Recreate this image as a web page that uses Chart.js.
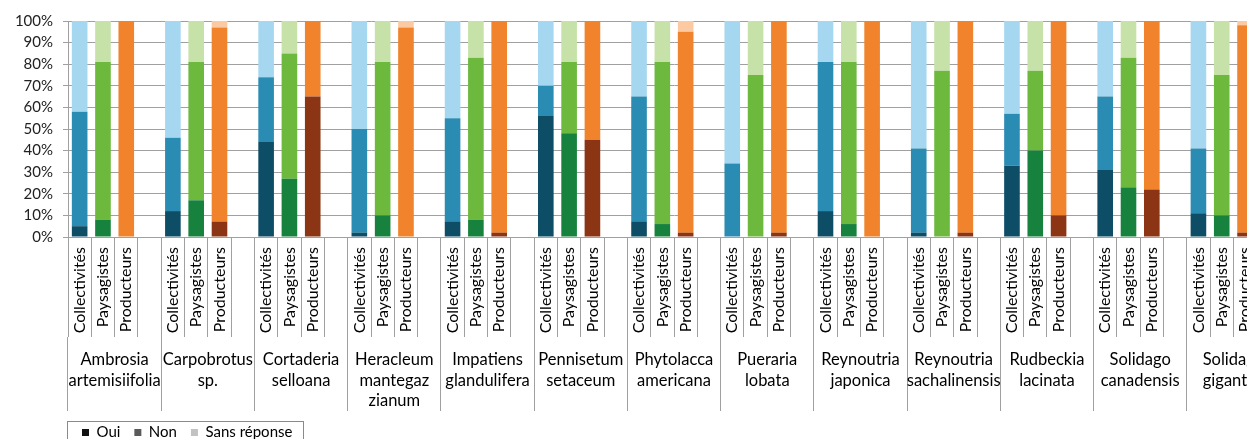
<!DOCTYPE html>
<html lang="fr">
<head>
<meta charset="utf-8">
<title>Espèces envahissantes</title>
<script src="https://cdn.jsdelivr.net/npm/chart.js@4.4.1/dist/chart.umd.min.js"></script>
<style>
  html, body { margin: 0; padding: 0; background: #fff; overflow: hidden; }
  #wrap { position: relative; width: 1290px; height: 455px; }
</style>
</head>
<body>
<div id="wrap"><canvas id="canvas-bar"></canvas></div>
<script>
const especes = [
  ['Ambrosia', 'artemisiifolia'],
  ['Carpobrotus', 'sp.'],
  ['Cortaderia', 'selloana'],
  ['Heracleum', 'mantegaz', 'zianum'],
  ['Impatiens', 'glandulifera'],
  ['Pennisetum', 'setaceum'],
  ['Phytolacca', 'americana'],
  ['Pueraria', 'lobata'],
  ['Reynoutria', 'japonica'],
  ['Reynoutria', 'sachalinensis'],
  ['Rudbeckia', 'lacinata'],
  ['Solidago', 'canadensis'],
  ['Solidago', 'gigantea']
];
const publics = ['Collectivités', 'Paysagistes', 'Producteurs'];
const reponses = ['Oui', 'Non', 'Sans réponse'];

// % par espèce
const collOui  = [5, 12, 44, 2, 7, 56, 7, 0, 12, 2, 33, 31, 11];
const collNon  = [53, 34, 30, 48, 48, 14, 58, 34, 69, 39, 24, 34, 30];
const collSans = [42, 54, 26, 50, 45, 30, 35, 66, 19, 59, 43, 35, 59];
const paysOui  = [8, 17, 27, 10, 8, 48, 6, 0, 6, 0, 40, 23, 10];
const paysNon  = [73, 64, 58, 71, 75, 33, 75, 75, 75, 77, 37, 60, 65];
const paysSans = [19, 19, 15, 19, 17, 19, 19, 25, 19, 23, 23, 17, 25];
const prodOui  = [0, 7, 65, 0, 2, 45, 2, 2, 0, 2, 10, 22, 2];
const prodNon  = [100, 90, 35, 97, 98, 55, 93, 98, 100, 98, 90, 78, 96];
const prodSans = [0, 3, 0, 3, 0, 0, 5, 0, 0, 0, 0, 0, 2];

const couleurs = {
  'Collectivités': ['#0e4d66', '#2a8cb3', '#a6d7f0'],
  'Paysagistes': ['#17823d', '#6cb93d', '#c6e2a8'],
  'Producteurs': ['#8c3514', '#f0832b', '#fbcaa2']
};
const couleursLegende = ['#111111', '#5a5a5a', '#c2c2c2'];

Chart.defaults.font.family = 'Lato, "Open Sans", sans-serif';

// 4 places par espece : 3 publics + 1 vide
const labelsX = [];
especes.forEach(() => {
  publics.forEach((p) => labelsX.push(p));
  labelsX.push('');
});

const series = [
  [collOui, paysOui, prodOui],
  [collNon, paysNon, prodNon],
  [collSans, paysSans, prodSans]
];

const datasets = reponses.map((rep, r) => {
  const data = [];
  const bg = [];
  especes.forEach((e, i) => {
    publics.forEach((p, j) => {
      data.push(series[r][j][i]);
      bg.push(couleurs[p][r]);
    });
    data.push(null);
    bg.push('rgba(0,0,0,0)');
  });
  return {
    label: rep,
    data: data,
    backgroundColor: bg,
    borderWidth: 0,
    barPercentage: 0.67,
    categoryPercentage: 1
  };
});

const cadreLegende = {
  id: 'cadreLegende',
  afterDraw(chart) {
    const lg = chart.legend;
    if (!lg || !lg.legendHitBoxes || !lg.legendHitBoxes.length) return;
    const last = lg.legendHitBoxes[lg.legendHitBoxes.length - 1];
    const ctx = chart.ctx;
    ctx.save();
    ctx.strokeStyle = '#8a8a8a';
    ctx.lineWidth = 1;
    ctx.strokeRect(Math.round(lg.left) - 0.5, Math.round(lg.top) + 10.5,
      Math.round(last.left + last.width + 12 - lg.left), 40);
    ctx.restore();
  }
};

const config = {
  type: 'bar',
  data: { labels: labelsX, datasets: datasets },
  plugins: [cadreLegende],
  options: {
    responsive: true,
    maintainAspectRatio: false,
    animation: false,
    layout: { padding: { left: 14, top: 21, right: 10, bottom: 5 } },
    scales: {
      x: {
        stacked: true,
        weight: 0,
        grid: { offset: true, drawOnChartArea: false, tickLength: 100, color: '#a0a0a0' },
        border: { display: false },
        ticks: {
          autoSkip: false, minRotation: 90, maxRotation: 90, padding: -90,
          color: '#000', font: { size: 16 }
        },
        afterFit: (s) => { s.height = 100; }
      },
      x2: {
        type: 'category',
        position: 'bottom',
        weight: 1,
        labels: especes,
        offset: true,
        grid: { offset: true, drawOnChartArea: false, tickLength: 74, color: '#a0a0a0' },
        border: { display: false },
        ticks: {
          autoSkip: false, minRotation: 0, maxRotation: 0, padding: -61,
          color: '#000', font: { size: 16.5, lineHeight: 1.22 }
        },
        afterFit: (s) => { s.height = 74; }
      },
      y: {
        stacked: true,
        min: 0,
        max: 100,
        ticks: {
          stepSize: 10,
          callback: (v) => v + '%',
          padding: 10,
          color: '#222',
          font: { size: 15 }
        },
        grid: { color: '#a0a0a0', tickLength: 5 },
        border: { color: '#a0a0a0' },
        afterFit: (s) => { s.width = 54; }
      }
    },
    plugins: {
      tooltip: { enabled: false },
      legend: {
        position: 'bottom',
        align: 'start',
        fullSize: false,
        onClick: () => {},
        labels: {
          boxWidth: 7,
          boxHeight: 7,
          padding: 14,
          color: '#111',
          font: { size: 15 },
          generateLabels: () => reponses.map((r, i) => ({
            text: r,
            fillStyle: couleursLegende[i],
            strokeStyle: couleursLegende[i],
            lineWidth: 0,
            hidden: false,
            datasetIndex: i
          }))
        }
      }
    }
  }
};

new Chart(document.getElementById('canvas-bar').getContext('2d'), config);
</script>
</body>
</html>
